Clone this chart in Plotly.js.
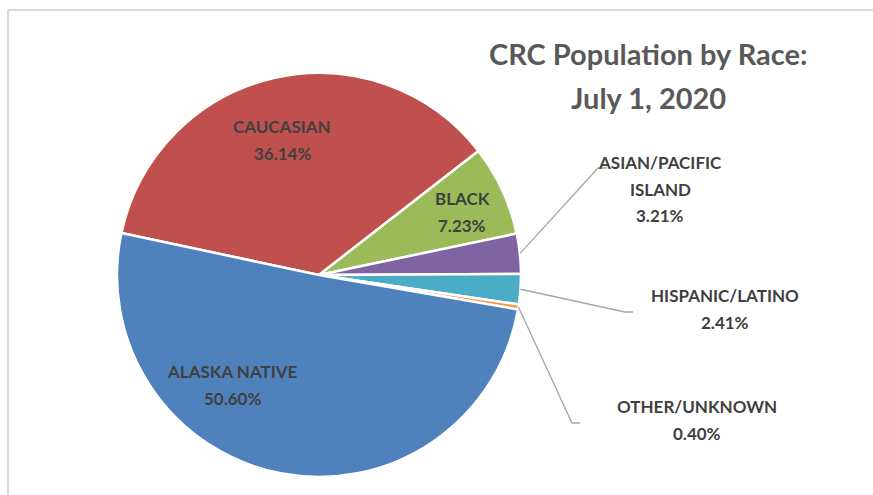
<!DOCTYPE html>
<html>
<head>
<meta charset="utf-8">
<script src="https://cdn.plot.ly/plotly-3.0.1.min.js"></script>
<style>html,body{margin:0;padding:0;background:#fff;}#chart{width:873px;height:495px;}</style>
</head>
<body>
<div id="chart"></div>
<script>
// ---- data ----
var categories = ["CAUCASIAN", "BLACK", "ASIAN/PACIFIC<br>ISLAND", "HISPANIC/LATINO", "OTHER/UNKNOWN", "ALASKA NATIVE"];
var percents = [36.14, 7.23, 3.21, 2.41, 0.40, 50.60];
var colors = ["#C0504D", "#9BBB59", "#8064A2", "#4BACC6", "#F79646", "#4F81BD"];
var titleLines = ["CRC Population by Race:", "July 1, 2020"];

// ---- layout geometry (pixels) ----
var W = 873, H = 495;
var cx = 319, cy = 275, R = 202;
var rotation = -78;
var lineGap = 26.5;
// label block centres (px)
var labelPos = [[282, 140], [462, 212], [660, 189], [725, 309], [697, 420], [232, 385]];
var leaders = [null, null, [[598, 168], [607, 168]], [[625, 312], [633, 312]], [[572, 423], [580, 423]], null];

function px(x) { return x / W; }
function py(y) { return 1 - y / H; }

var total = percents.reduce(function (a, b) { return a + b; }, 0);
var annotations = [];
var shapes = [];
var labelFont = {family: 'Lato, "Open Sans", sans-serif', size: 17, color: '#404040', weight: 'bold'};

// chart-area frame lines
shapes.push({type: 'line', xref: 'paper', yref: 'paper', x0: px(8), x1: 1, y0: py(10), y1: py(10), line: {color: '#d9d9d9', width: 2}});
shapes.push({type: 'line', xref: 'paper', yref: 'paper', x0: px(8), x1: px(8), y0: py(10), y1: 0, line: {color: '#d9d9d9', width: 2}});

var cum = 0;
for (var i = 0; i < categories.length; i++) {
  var mid = (rotation + 360 * (cum + percents[i] / 2) / total) * Math.PI / 180;
  cum += percents[i];
  var lines = categories[i].split("<br>").concat([percents[i].toFixed(2) + "%"]);
  var y0 = labelPos[i][1] - (lines.length - 1) * lineGap / 2;
  for (var k = 0; k < lines.length; k++) {
    annotations.push({
      xref: 'paper', yref: 'paper', x: px(labelPos[i][0]), y: py(y0 + k * lineGap),
      xanchor: 'center', yanchor: 'middle', showarrow: false,
      text: lines[k], font: labelFont
    });
  }
  if (leaders[i]) {
    var sx = cx + R * Math.sin(mid), sy = cy - R * Math.cos(mid);
    var p = 'M ' + px(sx) + ' ' + py(sy);
    leaders[i].forEach(function (pt) { p += ' L ' + px(pt[0]) + ' ' + py(pt[1]); });
    shapes.push({type: 'path', xref: 'paper', yref: 'paper', path: p, line: {color: '#a6a6a6', width: 1.3}});
  }
}

var titleFont = {family: 'Lato, "Open Sans", sans-serif', size: 29, color: '#595959', weight: 'bold'};
annotations.push({xref: 'paper', yref: 'paper', x: px(648), y: py(53), xanchor: 'center', yanchor: 'middle', showarrow: false,
  text: titleLines[0], font: titleFont});
annotations.push({xref: 'paper', yref: 'paper', x: px(648), y: py(97), xanchor: 'center', yanchor: 'middle', showarrow: false,
  text: titleLines[1], font: titleFont});

var trace = {
  type: 'pie',
  labels: categories,
  values: percents,
  sort: false,
  direction: 'clockwise',
  rotation: rotation,
  textinfo: 'none',
  hoverinfo: 'label+percent',
  marker: {colors: colors, line: {color: '#ffffff', width: 2.5}},
  domain: {x: [px(cx - R), px(cx + R)], y: [py(cy + R), py(cy - R)]},
  showlegend: false
};

var layout = {
  width: W, height: H,
  margin: {l: 0, r: 0, t: 0, b: 0},
  paper_bgcolor: '#ffffff',
  showlegend: false,
  annotations: annotations,
  shapes: shapes
};

Plotly.newPlot('chart', [trace], layout, {displayModeBar: false, staticPlot: true});
</script>
</body>
</html>
